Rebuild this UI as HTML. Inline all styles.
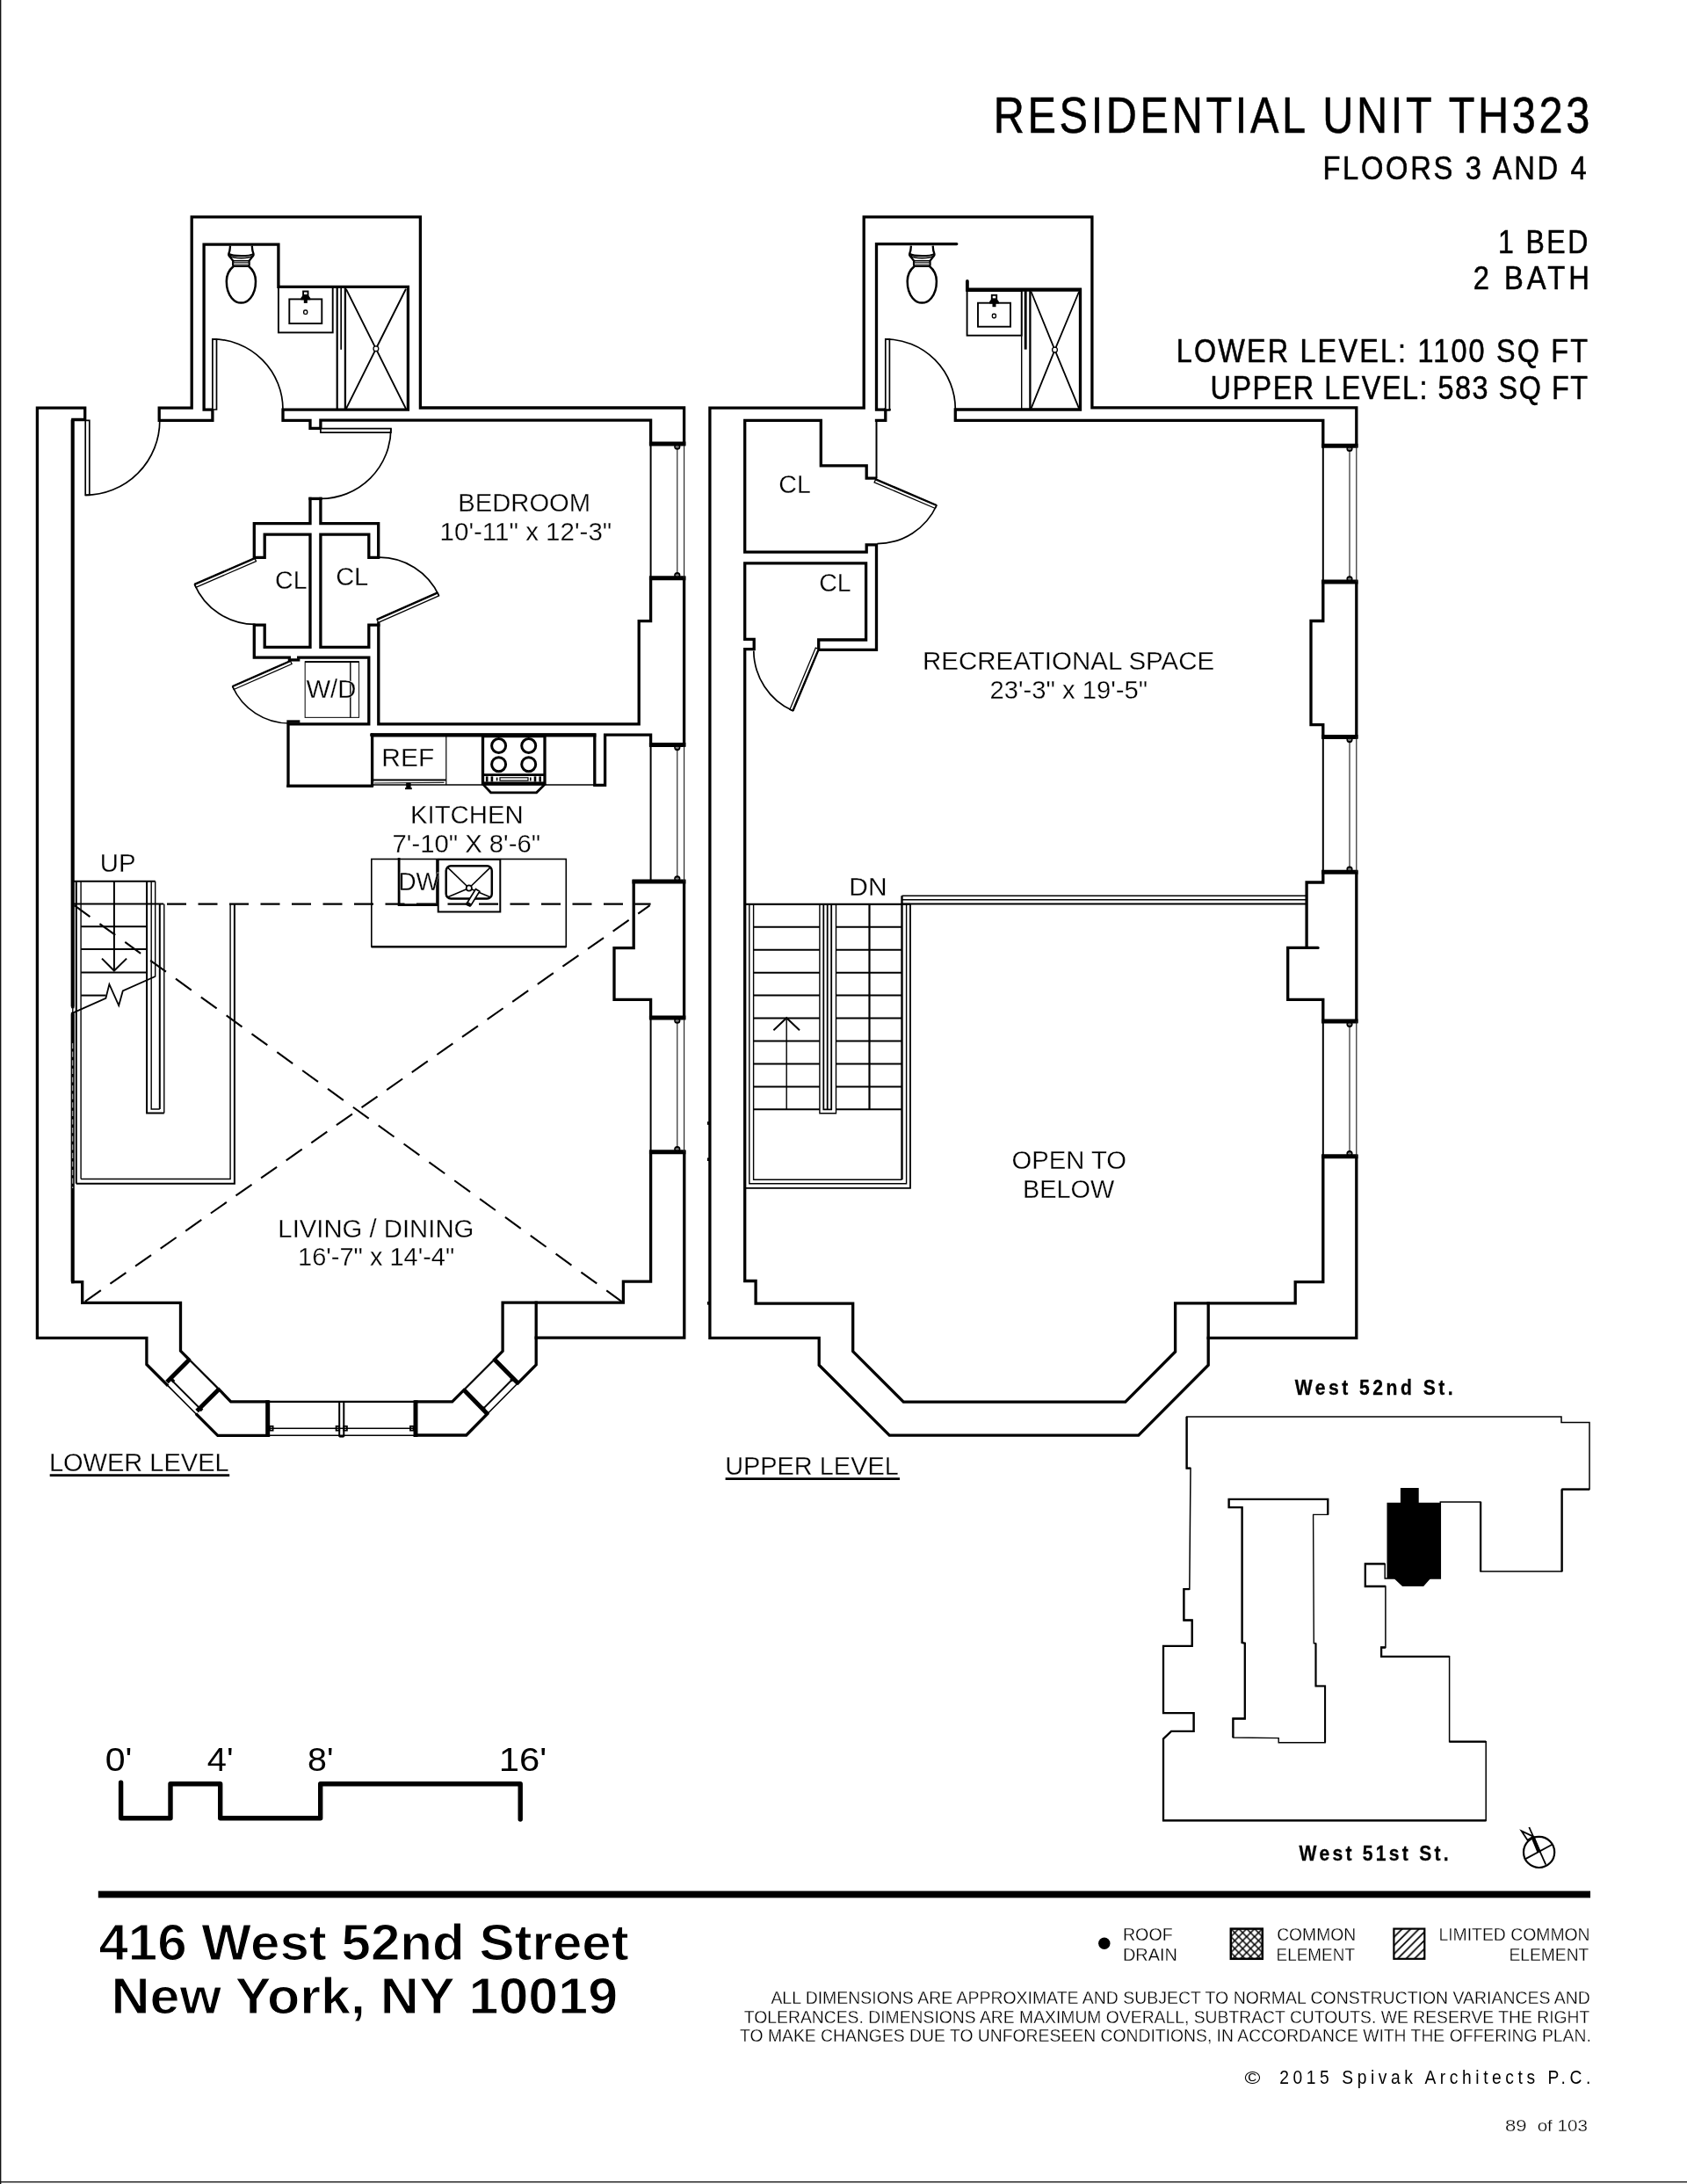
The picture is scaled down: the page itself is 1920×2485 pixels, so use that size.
<!DOCTYPE html>
<html><head><meta charset="utf-8"><title>Residential Unit TH323</title>
<style>
html,body{margin:0;padding:0;background:#fff;}
body{width:1920px;height:2485px;overflow:hidden;font-family:"Liberation Sans",sans-serif;}
svg{display:block;position:absolute;left:0;top:0;will-change:transform;}
text{font-family:"Liberation Sans",sans-serif;fill:#000;}
.w{fill:none;stroke:#000;stroke-width:3.3;stroke-linejoin:miter;stroke-linecap:square;}
.b{fill:none;stroke:#000;stroke-width:5.0;stroke-linecap:butt;}
.m{fill:none;stroke:#000;stroke-width:2;}
.t{fill:none;stroke:#000;stroke-width:1.4;}
.g{fill:none;stroke:#222;stroke-width:1.15;}
.d{fill:#fff;stroke:#000;stroke-width:1.7;stroke-linejoin:miter;}
.a{fill:none;stroke:#000;stroke-width:1.7;}
.dash{fill:none;stroke:#000;stroke-width:2.1;stroke-dasharray:22 13.5;}
.f{fill:#000;stroke:none;}
.lbl{font-weight:400;stroke:#fff;stroke-width:0.3px;paint-order:fill stroke;}
.bs{font-weight:700;fill:#000;stroke:#000;stroke-width:0.3px;}
.hd{font-weight:400;fill:#000;stroke:#000;stroke-width:0.55px;}
.hl{font-weight:400;fill:#000;}
.bd{font-weight:700;fill:#000;stroke:#fff;stroke-width:1.1px;paint-order:fill stroke;}
.kp{fill:none;stroke:#000;stroke-width:1.8;stroke-linejoin:miter;}
</style></head>
<body>
<svg width="1920" height="2485" viewBox="0 0 1920 2485">
<rect x="0" y="0" width="1920" height="2485" fill="#fff"/>
<g id="lower">
<path class="w" d="M82.8 1458.6 L82.8 1153.5"/>
<path class="w" d="M82.8 1145.5 L82.8 477.5 L96.7 477.5 L96.7 464.1 L42.4 464.1 L42.4 1522.3 L166.9 1522.3 L166.9 1552.5 L190.0 1575.6"/>
<path class="w" d="M82.8 1458.6 L93.7 1458.6 L93.7 1482.3 L205.5 1482.3 L205.5 1537.1 L215.2 1546.8"/>
<line class="t" x1="82.8" y1="1145.5" x2="82.8" y2="1153.5"/>
<line class="w" x1="82.6" y1="477.5" x2="82.6" y2="1145.5" style="stroke-width:3.9;stroke-linecap:butt"/>
<line class="w" x1="82.6" y1="1153.5" x2="82.6" y2="1458.6" style="stroke-width:3.9;stroke-linecap:butt"/>
<line x1="82.6" y1="1187" x2="82.6" y2="1352" stroke="#a0a0a0" stroke-width="1.3" stroke-dasharray="6.2 3.4"/>
<path class="b" d="M190.0 1572.5 L215.2 1547.3"/>
<path class="b" d="M224.1 1605.6 L249.3 1580.4"/>
<line class="m" x1="215.2" y1="1546.8" x2="249.3" y2="1580.9" style="stroke-width:2.2"/>
<line class="t" x1="190.0" y1="1575.6" x2="224.1" y2="1609.7" style="stroke-width:1.6"/>
<line class="m" x1="196.6" y1="1571.6" x2="228.6" y2="1603.6"/>
<rect class="f" x="195.0" y="1569.2" width="3.6" height="3.6" transform="rotate(45 196.8 1571)"/>
<rect class="f" x="227.0" y="1601.8" width="3.6" height="3.6" transform="rotate(45 228.8 1603.6)"/>
<path class="w" d="M249.3 1580.9 L262.7 1594.9 L304.6 1594.9"/>
<path class="w" d="M224.1 1609.7 L247.8 1633.4 L304.6 1633.4"/>
<line class="b" x1="304.7" y1="1593.3" x2="304.7" y2="1635.0"/>
<line class="b" x1="473.0" y1="1593.3" x2="473.0" y2="1635.0"/>
<line class="m" x1="304.7" y1="1594.9" x2="473.0" y2="1594.9" style="stroke-width:2.2"/>
<line class="t" x1="304.7" y1="1625.2" x2="473.0" y2="1625.2"/>
<line class="t" x1="304.7" y1="1633.2" x2="473.0" y2="1633.2" style="stroke-width:1.6"/>
<line class="m" x1="386.2" y1="1594.9" x2="386.2" y2="1634.8"/>
<line class="m" x1="391.3" y1="1594.9" x2="391.3" y2="1634.8"/>
<line class="m" x1="386.2" y1="1634.6" x2="391.3" y2="1634.6"/>
<rect class="m" x="382.6" y="1622.8" width="3.6" height="4.8" style="stroke-width:1.8"/>
<rect class="m" x="391.3" y="1622.8" width="3.6" height="4.8" style="stroke-width:1.8"/>
<rect class="m" x="307.0" y="1622.8" width="3.6" height="4.8" style="stroke-width:1.8"/>
<rect class="m" x="467.0" y="1622.8" width="3.6" height="4.8" style="stroke-width:1.8"/>
<path class="w" d="M473.0 1594.8 L514.7 1594.8 L528.0 1581.5"/>
<path class="w" d="M473.0 1633.0 L530.7 1633.0 L554.7 1608.7"/>
<path class="b" d="M562.7 1546.8 L589.4 1573.8"/>
<path class="b" d="M528.0 1581.5 L554.7 1608.7"/>
<line class="m" x1="528.0" y1="1581.5" x2="562.7" y2="1546.8" style="stroke-width:2.2"/>
<line class="t" x1="554.7" y1="1608.7" x2="589.4" y2="1573.8" style="stroke-width:1.6"/>
<line class="m" x1="550.2" y1="1602.6" x2="582.8" y2="1569.8"/>
<rect class="f" x="548.2" y="1600.8" width="3.6" height="3.6" transform="rotate(45 550 1602.6)"/>
<rect class="f" x="581.0" y="1568.0" width="3.6" height="3.6" transform="rotate(45 582.8 1569.8)"/>
<path class="w" d="M562.7 1546.8 L572.1 1537.4 L572.1 1482.2 L709.4 1482.2 L709.4 1458.2 L740.6 1458.2 L740.6 1310.7"/>
<path class="w" d="M589.4 1573.8 L610.2 1552.9 L610.2 1482.2"/>
<path class="w" d="M610.2 1522.2 L778.8 1522.2 L778.8 1310.7"/>
<line class="b" x1="738.9" y1="1310.7" x2="780.4" y2="1310.7"/>
<line class="b" x1="738.9" y1="1158.0" x2="780.4" y2="1158.0"/>
<line class="m" x1="740.6" y1="1158.0" x2="740.6" y2="1310.7"/>
<line class="g" x1="770.8" y1="1158.0" x2="770.8" y2="1310.7"/>
<line class="g" x1="778.6" y1="1158.0" x2="778.6" y2="1310.7"/>
<circle class="m" cx="770.8" cy="1161.2" r="2.6"/>
<circle class="m" cx="770.8" cy="1307.5" r="2.6"/>
<path class="w" d="M778.6 1158.0 L778.6 1003.0"/>
<path class="w" d="M740.6 1158.0 L740.6 1137.3 L699.0 1137.3 L699.0 1078.6 L721.2 1078.6 L721.2 1003.0"/>
<line class="b" x1="719.5" y1="1003.0" x2="780.4" y2="1003.0"/>
<line class="b" x1="738.9" y1="847.4" x2="780.4" y2="847.4"/>
<line class="m" x1="740.6" y1="847.4" x2="740.6" y2="1003.0"/>
<line class="g" x1="770.8" y1="847.4" x2="770.8" y2="1003.0"/>
<line class="g" x1="778.6" y1="847.4" x2="778.6" y2="1003.0"/>
<circle class="m" cx="770.8" cy="850.6" r="2.6"/>
<circle class="m" cx="770.8" cy="999.8" r="2.6"/>
<path class="w" d="M778.6 847.4 L778.6 657.8"/>
<path class="w" d="M740.6 847.4 L740.6 836.2 L688.6 836.2 L688.6 893.4 L676.8 893.4 L676.8 836.2 L422.9 836.2"/>
<path class="w" d="M430.8 709.7 L430.8 823.8 L727.2 823.8 L727.2 706.7 L740.6 706.7 L740.6 657.8"/>
<line class="b" x1="738.9" y1="657.8" x2="780.4" y2="657.8"/>
<line class="b" x1="738.9" y1="505.0" x2="780.4" y2="505.0"/>
<line class="m" x1="740.6" y1="505.0" x2="740.6" y2="657.8"/>
<line class="g" x1="770.8" y1="505.0" x2="770.8" y2="657.8"/>
<line class="g" x1="778.6" y1="505.0" x2="778.6" y2="657.8"/>
<circle class="m" cx="770.8" cy="508.2" r="2.6"/>
<circle class="m" cx="770.8" cy="654.6" r="2.6"/>
<path class="w" d="M740.6 505.0 L740.6 478.1 L364.9 478.1 L364.9 487.3 L353.0 487.3 L353.0 478.4 L322.0 478.4 L322.0 466.2 L464.4 466.2 L464.4 326.3 L316.9 326.3 L316.9 278.1 L232.1 278.1 L232.1 466.2 L241.9 466.2 L241.9 478.4 L181.2 478.4 L181.2 464.1 L218.2 464.1 L218.2 246.9 L478.4 246.9 L478.4 464.0 L778.6 464.0 L778.6 505.0"/>
<path class="d" d="M97.2 478.4 L97.2 563.4 L101.8 563.4 L101.8 478.4 Z"/>
<path class="a" d="M97.2 563.4 A85.0 85.0 0 0 0 181.8 478.4"/>
<path class="d" d="M241.9 466.0 L241.9 385.8 L246.5 385.8 L246.5 466.0 Z"/>
<path class="a" d="M241.9 385.8 A80.2 80.2 0 0 1 322.0 466.0"/>
<path class="d" d="M364.9 487.6 L444.9 487.6 L444.9 492.2 L364.9 492.2 Z"/>
<path class="a" d="M444.9 487.6 A79.8 79.8 0 0 1 364.9 567.4"/>
<g transform="translate(0.0 0.0)">
<path class="m" style="stroke-width:2.3;stroke-linejoin:round" d="M262 279.7 L261.6 284 C261.2 287 260 288.5 260.2 290 C260.4 291 261.2 291.8 262 292.6 L265.2 296.8 L265.2 302.6 M286.8 279.7 L287.2 284 C287.6 287 288.8 288.5 288.6 290 C288.4 291 287.6 291.8 286.8 292.6 L283.6 296.8 L283.6 302.6"/>
<path class="m" style="stroke-width:2.1" d="M260.6 289.0 C265 291.8 284 291.8 288.2 289.0"/>
<path class="t" style="stroke-width:1.5" d="M261.8 291.4 C266 294.4 283 294.4 287 291.4"/>
<path class="t" style="stroke-width:1.5" d="M265.2 296.7 H283.6"/>
<path class="g" d="M265.2 298.7 H283.6"/>
<path d="M266.6 300.5 H282.2" stroke="#8a8a8a" stroke-width="1.6" fill="none"/>
<path class="m" style="stroke-width:2.5" d="M266 302.8 C261.5 306.5 257.8 312.5 257.8 320 C257.8 329.5 260.6 335.4 263.8 339.2 C266.6 342.5 270 344.6 274.4 344.6 C278.8 344.6 282.2 342.5 285 339.2 C288.2 335.4 291 329.5 291 320 C291 312.5 287.3 306.5 282.8 302.8 Z"/>
</g>
<rect class="t" x="316.9" y="327.0" width="61.8" height="51.4" style="stroke-width:1.9"/>
<rect class="m" x="329.3" y="340.4" width="37.0" height="27.7" style="stroke-width:1.9"/>
<rect class="m" x="345.1" y="331.5" width="5.4" height="4.5" style="stroke-width:1.9"/>
<path class="f" d="M342.4 341.3 L342.4 339.0 L344.8 335.8 L350.8 335.8 L353.2 339.0 L353.2 341.3 Z"/>
<rect class="f" x="345.8" y="340.4" width="4.0" height="4.5"/>
<rect class="t" x="345.7" y="353.0" width="4.0" height="4.4" style="stroke-width:1.4" rx="1.4"/>
<line class="m" x1="383.7" y1="326.3" x2="383.7" y2="466.2" style="stroke-width:2.2"/>
<line class="t" x1="388.2" y1="326.3" x2="388.2" y2="397.8" style="stroke-width:1.7"/>
<line class="m" x1="392.9" y1="326.3" x2="392.9" y2="466.2" style="stroke-width:2.3"/>
<path class="t" d="M393.9 328.8 L427.9 396.8 L462.0 328.8" style="stroke-linejoin:bevel;stroke-width:1.9"/>
<path class="t" d="M393.9 465.2 L427.9 396.8 L462.0 465.2" style="stroke-linejoin:bevel;stroke-width:1.9"/>
<circle cx="427.9" cy="396.8" r="2.9" fill="#fff" stroke="#000" stroke-width="1.3"/>
<path class="w" d="M353.0 567.4 L364.9 567.4"/>
<path class="w" d="M353.0 567.4 L353.0 595.6 L289.3 595.6 L289.3 634.3 L301.2 634.3 L301.2 608.2 L353.0 608.2 L353.0 736.4 L301.2 736.4 L301.2 711.2 L289.3 711.2 L289.3 748.2 L329.4 748.2"/>
<path class="w" d="M364.9 567.4 L364.9 595.6 L430.7 595.6 L430.7 634.3 L419.8 634.3 L419.8 608.2 L364.9 608.2 L364.9 736.4 L419.8 736.4 L419.8 711.2 L430.8 711.2"/>
<path class="w" d="M329.4 750.9 L339.7 750.9"/>
<path class="w" d="M339.7 748.2 L419.8 748.2 L419.8 823.8 L328.0 823.8 L328.0 894.3 L423.0 894.3"/>
<path class="w" d="M328.0 821.0 L339.7 821.0"/>
<rect class="g" x="347.2" y="752.9" width="61.3" height="63.5"/>
<line class="t" x1="398.8" y1="752.9" x2="398.8" y2="816.4"/>
<line class="m" x1="347.2" y1="752.9" x2="408.5" y2="752.9"/>
<path class="d" d="M290.0 635.2 L221.4 664.8 L222.9 668.3 L291.5 638.7 Z" style="stroke-width:1.3"/>
<line class="m" x1="290.0" y1="635.2" x2="221.4" y2="664.8" style="stroke-width:2.4"/>
<path class="a" d="M221.4 664.8 A74.8 74.8 0 0 0 290.6 710.4"/>
<path class="d" d="M430.5 708.4 L499.6 677.8 L498.1 674.3 L429.0 704.9 Z" style="stroke-width:1.3"/>
<line class="m" x1="429.0" y1="704.9" x2="498.1" y2="674.3" style="stroke-width:2.4"/>
<path class="a" d="M499.6 677.8 A74.8 74.8 0 0 0 430.6 634.2"/>
<path class="d" d="M330.6 752.0 L264.6 781.0 L266.1 784.5 L332.1 755.5 Z" style="stroke-width:1.3"/>
<line class="m" x1="330.6" y1="752.0" x2="264.6" y2="781.0" style="stroke-width:2.4"/>
<path class="a" d="M264.6 781.0 A70.8 70.8 0 0 0 329.4 823.0"/>
<line class="t" x1="423.0" y1="893.0" x2="688.6" y2="893.0" style="stroke-width:1.6"/>
<line class="w" x1="328.0" y1="894.3" x2="423.0" y2="894.3"/>
<line class="w" x1="423.6" y1="836.2" x2="423.6" y2="893.4"/>
<line class="w" x1="421.9" y1="836.3" x2="678.4" y2="836.3" style="stroke-width:4.3;stroke-linecap:butt"/>
<line class="t" x1="507.8" y1="838.0" x2="507.8" y2="893.0" style="stroke-width:1.2"/>
<line class="m" x1="425.0" y1="887.6" x2="507.8" y2="887.6"/>
<line class="g" x1="426.0" y1="891.0" x2="505.5" y2="890.4"/>
<rect class="f" x="462.2" y="890.6" width="5.4" height="7.0"/>
<line class="m" x1="461.0" y1="897.2" x2="468.8" y2="897.2"/>
<rect class="w" x="549.5" y="837.6" width="70.5" height="54.0" style="stroke-width:3.3"/>
<circle class="m" cx="567.6" cy="848.5" r="8.0" style="stroke-width:3"/>
<circle class="m" cx="567.6" cy="869.7" r="8.0" style="stroke-width:3"/>
<circle class="m" cx="601.7" cy="848.5" r="8.0" style="stroke-width:3"/>
<circle class="m" cx="601.7" cy="869.7" r="8.0" style="stroke-width:3"/>
<line class="m" x1="549.5" y1="881.6" x2="620.0" y2="881.6" style="stroke-width:2.6"/>
<line class="w" x1="549.5" y1="891.4" x2="620.0" y2="891.4" style="stroke-width:3.6;stroke-linecap:butt"/>
<rect class="t" x="569.0" y="884.8" width="32.0" height="3.4" style="stroke-width:1.2"/>
<line class="m" x1="554.2" y1="883.4" x2="554.2" y2="889.6" style="stroke-width:2.6"/>
<line class="m" x1="559.9" y1="883.4" x2="559.9" y2="889.6" style="stroke-width:2.6"/>
<line class="m" x1="609.0" y1="883.4" x2="609.0" y2="889.6" style="stroke-width:2.6"/>
<line class="m" x1="614.7" y1="883.4" x2="614.7" y2="889.6" style="stroke-width:2.6"/>
<line class="m" x1="565.6" y1="884.6" x2="565.6" y2="888.4" style="stroke-width:1.6"/>
<line class="m" x1="603.8" y1="884.6" x2="603.8" y2="888.4" style="stroke-width:1.6"/>
<path class="w" d="M549.9 892.6 L558.6 901.8 L610.6 901.8 L620.0 892.6" style="stroke-width:2.7"/>
<rect class="m" x="422.8" y="977.5" width="221.5" height="99.7" style="stroke-width:1.6"/>
<line class="m" x1="422.8" y1="1077.2" x2="644.3" y2="1077.2" style="stroke-width:2.5"/>
<path class="w" d="M454.1 977.5 L454.1 1029.6 L498.4 1029.6" style="stroke-width:2.8"/>
<line class="w" x1="497.6" y1="977.5" x2="497.6" y2="1029.6" style="stroke-width:2.8;stroke-linecap:butt"/>
<line class="m" x1="459.0" y1="1026.8" x2="474.0" y2="1026.8" style="stroke:#fff;stroke-width:1.2"/>
<rect class="m" x="498.7" y="977.9" width="70.6" height="59.6" style="stroke-width:2;fill:#fff"/>
<rect class="m" x="507.7" y="985.3" width="52.1" height="37.2" rx="5.5" style="stroke-width:2.5"/>
<line class="t" x1="533.8" y1="1010.5" x2="509.6" y2="987.2" style="stroke-width:1.6"/>
<line class="t" x1="533.8" y1="1010.5" x2="557.9" y2="987.2" style="stroke-width:1.6"/>
<line class="t" x1="533.8" y1="1010.5" x2="509.6" y2="1020.8" style="stroke-width:1.6"/>
<line class="t" x1="533.8" y1="1010.5" x2="557.9" y2="1020.8" style="stroke-width:1.6"/>
<circle cx="533.8" cy="1010.5" r="3.1" fill="#fff" stroke="#000" stroke-width="1.7"/>
<path d="M541.4 1011.6 L545.8 1014.2 L536.4 1029.4 L532.0 1026.8 Z" fill="#fff" stroke="#000" stroke-width="1.7"/>
<path d="M530.8 1026.6 L536.8 1030.4 L535.0 1032.0 L530.0 1029.8 Z" fill="#000"/>
<path class="dash" d="M190 1028.6 H740.6"/>
<path class="dash" d="M739.6 1030.2 L96.8 1480.8" style="stroke-dasharray:22 12.94;stroke-dashoffset:5.7"/>
<path class="dash" d="M84.6 1030.2 L708.2 1481.4" style="stroke-dasharray:22 13.6"/>
<line class="m" x1="82.8" y1="1002.8" x2="176.7" y2="1002.8"/>
<line class="m" x1="86.8" y1="1002.8" x2="86.8" y2="1346.8"/>
<line class="t" x1="92.1" y1="1002.8" x2="92.1" y2="1341.5"/>
<path class="m" d="M167.1 1002.8 L167.1 1266.5 L186.8 1266.5"/>
<line class="t" x1="186.8" y1="1266.5" x2="186.8" y2="1028.6"/>
<path class="t" d="M172.2 1002.8 L172.2 1262.0 L181.8 1262.0"/>
<line class="m" x1="181.8" y1="1262.0" x2="181.8" y2="1028.6"/>
<line class="t" x1="176.7" y1="1002.8" x2="176.7" y2="1111.5"/>
<line class="m" x1="84.0" y1="1028.4" x2="186.2" y2="1028.4"/>
<line class="m" x1="92.2" y1="1054.2" x2="167.2" y2="1054.2"/>
<line class="m" x1="92.2" y1="1080.0" x2="167.2" y2="1080.0"/>
<line class="m" x1="92.2" y1="1106.6" x2="167.2" y2="1106.6"/>
<line class="m" x1="92.2" y1="1132.6" x2="120.4" y2="1132.6"/>
<line class="m" x1="129.9" y1="1002.8" x2="129.9" y2="1104.0"/>
<path class="m" d="M116.0 1090.6 L129.9 1104.5 L144.1 1090.6"/>
<path class="m" d="M81.0 1153.4 L120.4 1135.8 L124.4 1119.9 L135.2 1144.0 L139.8 1127.4 L176.7 1111.0" style="stroke-width:1.8"/>
<path class="m" d="M86.8 1346.8 L266.9 1346.8 L266.9 1028.6"/>
<path class="t" d="M92.1 1341.5 L262.1 1341.5 L262.1 1028.6"/>
<text class="lbl" x="521.37" y="581.7" font-size="30.2" textLength="150.73" lengthAdjust="spacingAndGlyphs">BEDROOM</text>
<text class="lbl" x="500.59" y="614.9" font-size="30.2" textLength="195.72" lengthAdjust="spacingAndGlyphs">10'-11&quot; x 12'-3&quot;</text>
<text class="lbl" x="313.07" y="669.7" font-size="30.2" textLength="36.48" lengthAdjust="spacingAndGlyphs">CL</text>
<text class="lbl" x="382.15" y="666.1" font-size="30.2" textLength="37.12" lengthAdjust="spacingAndGlyphs">CL</text>
<text class="lbl" x="348.45" y="794.1" font-size="30.2" textLength="56.98" lengthAdjust="spacingAndGlyphs">W/D</text>
<text class="lbl" x="434.30" y="871.7" font-size="30.2" textLength="59.90" lengthAdjust="spacingAndGlyphs">REF</text>
<text class="lbl" x="466.95" y="936.9" font-size="30.2" textLength="128.72" lengthAdjust="spacingAndGlyphs">KITCHEN</text>
<text class="lbl" x="446.54" y="969.5" font-size="30.2" textLength="168.58" lengthAdjust="spacingAndGlyphs">7'-10&quot; X 8'-6&quot;</text>
<text class="lbl" x="453.24" y="1013.2" font-size="30.2" textLength="47.03" lengthAdjust="spacingAndGlyphs">DW</text>
<text class="lbl" x="113.80" y="991.9" font-size="30.2" textLength="40.79" lengthAdjust="spacingAndGlyphs">UP</text>
<text class="lbl" x="316.36" y="1408.2" font-size="30.2" textLength="222.96" lengthAdjust="spacingAndGlyphs">LIVING / DINING</text>
<text class="lbl" x="339.03" y="1439.9" font-size="30.2" textLength="178.25" lengthAdjust="spacingAndGlyphs">16'-7&quot; x 14'-4&quot;</text>
<text class="lbl" x="55.88" y="1674.0" font-size="30.2" textLength="204.79" lengthAdjust="spacingAndGlyphs">LOWER LEVEL</text>
<line class="m" x1="56.7" y1="1678.7" x2="261.2" y2="1678.7" style="stroke-width:2.8"/>
</g>
<g id="upper">
<path class="w" d="M1543.8 507.3 L1543.8 463.8 L1242.9 463.8 L1242.9 246.9 L983.2 246.9 L983.2 464.1 L807.9 464.1 L807.9 1522.3 L932.2 1522.3 L932.2 1553.2 L1012.3 1633.2 L1295.7 1633.2 L1375.2 1553.2 L1375.2 1483.0"/>
<path class="w" d="M1375.2 1522.4 L1543.8 1522.4 L1543.8 1315.7"/>
<path class="w" d="M1543.8 1162.1 L1543.8 992.3"/>
<path class="w" d="M1543.8 838.4 L1543.8 662.0"/>
<path class="w" d="M1505.8 1315.7 L1505.8 1458.6 L1474.2 1458.6 L1474.2 1482.9 L1337.6 1482.9 L1337.6 1538.0 L1280.8 1595.2 L1028.3 1595.2 L970.7 1537.6 L970.7 1483.1 L860.1 1483.1 L860.1 1457.5 L847.7 1457.5 L847.7 738.7 L858.2 738.7 L858.2 727.4 L847.7 727.4 L847.7 640.9 L985.6 640.9 L985.6 728.0 L931.7 728.0 L931.7 739.3 L997.5 739.3 L997.5 619.9 L986.2 619.9 L986.2 628.2 L847.7 628.2 L847.7 478.4 L934.3 478.4 L934.3 529.9 L986.2 529.9 L986.2 544.2 L996.5 544.2"/>
<line class="m" x1="997.5" y1="478.4" x2="997.5" y2="544.2"/>
<path class="w" d="M997.5 478.4 L1007.8 478.4 L1007.8 466.2"/>
<path class="w" d="M1012.3 466.2 L997.5 466.2 L997.5 277.6 L1088.8 277.6" style="stroke-linecap:round"/>
<path class="w" d="M1100.9 320.0 L1100.9 329.6" style="stroke-linecap:round;stroke-width:3.8"/>
<line class="w" x1="1099.0" y1="329.7" x2="1231.0" y2="329.7" style="stroke-width:4.2;stroke-linecap:butt"/>
<path class="w" d="M1229.5 329.7 L1229.5 466.0 L1087.3 466.0 L1087.3 478.4 L1505.8 478.4 L1505.8 507.3"/>
<line class="b" x1="1504.1" y1="507.3" x2="1545.5" y2="507.3"/>
<line class="b" x1="1504.1" y1="662.0" x2="1545.5" y2="662.0"/>
<line class="m" x1="1505.8" y1="507.3" x2="1505.8" y2="662.0"/>
<line class="g" x1="1536.0" y1="507.3" x2="1536.0" y2="662.0"/>
<line class="g" x1="1543.8" y1="507.3" x2="1543.8" y2="662.0"/>
<circle class="m" cx="1536.0" cy="510.5" r="2.6"/>
<circle class="m" cx="1536.0" cy="658.8" r="2.6"/>
<path class="w" d="M1505.8 662.0 L1505.8 706.5 L1492.0 706.5 L1492.0 824.6 L1505.8 824.6 L1505.8 838.4"/>
<line class="b" x1="1504.1" y1="838.4" x2="1545.5" y2="838.4"/>
<line class="b" x1="1504.1" y1="992.3" x2="1545.5" y2="992.3"/>
<line class="m" x1="1505.8" y1="838.4" x2="1505.8" y2="992.3"/>
<line class="g" x1="1536.0" y1="838.4" x2="1536.0" y2="992.3"/>
<line class="g" x1="1543.8" y1="838.4" x2="1543.8" y2="992.3"/>
<circle class="m" cx="1536.0" cy="841.6" r="2.6"/>
<circle class="m" cx="1536.0" cy="989.1" r="2.6"/>
<path class="w" d="M1505.8 992.3 L1505.8 1004.0 L1487.1 1004.0 L1487.1 1078.4 L1465.7 1078.4 L1465.7 1137.4 L1505.8 1137.4 L1505.8 1162.1"/>
<path class="w" d="M1487.1 1078.4 L1500.0 1078.4" style="stroke-linecap:round"/>
<line class="b" x1="1504.1" y1="1162.1" x2="1545.5" y2="1162.1"/>
<line class="b" x1="1504.1" y1="1315.7" x2="1545.5" y2="1315.7"/>
<line class="m" x1="1505.8" y1="1162.1" x2="1505.8" y2="1315.7"/>
<line class="g" x1="1536.0" y1="1162.1" x2="1536.0" y2="1315.7"/>
<line class="g" x1="1543.8" y1="1162.1" x2="1543.8" y2="1315.7"/>
<circle class="m" cx="1536.0" cy="1165.3" r="2.6"/>
<circle class="m" cx="1536.0" cy="1312.5" r="2.6"/>
<path class="d" d="M1007.8 466.0 L1007.8 385.8 L1012.4 385.8 L1012.4 466.0 Z"/>
<path class="a" d="M1007.8 385.8 A79.8 79.8 0 0 1 1087.3 466.0"/>
<path class="d" d="M996.6 545.4 L1066.0 575.0 L1064.5 578.5 L995.1 548.9 Z" style="stroke-width:1.3"/>
<line class="m" x1="996.6" y1="545.4" x2="1066.0" y2="575.0" style="stroke-width:2.4"/>
<path class="a" d="M1066.0 575.0 A74.6 74.6 0 0 1 998.4 618.6"/>
<path class="d" d="M931.8 738.6 L902.4 808.8 L898.9 807.3 L928.3 737.1 Z" style="stroke-width:1.3"/>
<line class="m" x1="931.8" y1="738.6" x2="902.4" y2="808.8" style="stroke-width:2.4"/>
<path class="a" d="M902.4 808.8 A75.4 75.4 0 0 1 857.8 740.6"/>
<g transform="translate(774.9 0.0)">
<path class="m" style="stroke-width:2.3;stroke-linejoin:round" d="M262 279.7 L261.6 284 C261.2 287 260 288.5 260.2 290 C260.4 291 261.2 291.8 262 292.6 L265.2 296.8 L265.2 302.6 M286.8 279.7 L287.2 284 C287.6 287 288.8 288.5 288.6 290 C288.4 291 287.6 291.8 286.8 292.6 L283.6 296.8 L283.6 302.6"/>
<path class="m" style="stroke-width:2.1" d="M260.6 289.0 C265 291.8 284 291.8 288.2 289.0"/>
<path class="t" style="stroke-width:1.5" d="M261.8 291.4 C266 294.4 283 294.4 287 291.4"/>
<path class="t" style="stroke-width:1.5" d="M265.2 296.7 H283.6"/>
<path class="g" d="M265.2 298.7 H283.6"/>
<path d="M266.6 300.5 H282.2" stroke="#8a8a8a" stroke-width="1.6" fill="none"/>
<path class="m" style="stroke-width:2.5" d="M266 302.8 C261.5 306.5 257.8 312.5 257.8 320 C257.8 329.5 260.6 335.4 263.8 339.2 C266.6 342.5 270 344.6 274.4 344.6 C278.8 344.6 282.2 342.5 285 339.2 C288.2 335.4 291 329.5 291 320 C291 312.5 287.3 306.5 282.8 302.8 Z"/>
</g>
<rect class="t" x="1100.6" y="331.0" width="62.1" height="50.7" style="stroke-width:1.9"/>
<rect class="m" x="1113.0" y="344.7" width="37.0" height="27.0" style="stroke-width:1.9"/>
<rect class="m" x="1128.8" y="335.8" width="5.4" height="4.5" style="stroke-width:1.9"/>
<path class="f" d="M1126.1 345.6 L1126.1 343.3 L1128.5 340.1 L1134.5 340.1 L1136.9 343.3 L1136.9 345.6 Z"/>
<rect class="f" x="1129.5" y="344.7" width="4.0" height="4.5"/>
<rect class="t" x="1129.4" y="357.3" width="4.0" height="4.4" style="stroke-width:1.4" rx="1.4"/>
<line class="t" x1="1162.7" y1="329.7" x2="1162.7" y2="466.0"/>
<line class="w" x1="1167.2" y1="331.0" x2="1167.2" y2="397.6" style="stroke-width:2.9;stroke-linecap:butt"/>
<line class="m" x1="1172.4" y1="329.7" x2="1172.4" y2="466.0" style="stroke-width:2.3"/>
<path class="t" d="M1173.6 332.0 L1200.5 398.1 L1228.0 332.0" style="stroke-linejoin:bevel;stroke-width:1.8"/>
<path class="t" d="M1173.6 464.6 L1200.5 398.1 L1228.0 464.6" style="stroke-linejoin:bevel;stroke-width:1.8"/>
<circle cx="1200.5" cy="398.1" r="2.9" fill="#fff" stroke="#000" stroke-width="1.3"/>
<line class="m" x1="847.7" y1="1028.8" x2="1036.0" y2="1028.8" style="stroke-width:2.2"/>
<path class="t" d="M852.8 1028.8 L852.8 1346.8 L1031.6 1346.8 L1031.6 1028.8"/>
<path class="t" d="M857.6 1028.8 L857.6 1342.3 L1026.5 1342.3"/>
<line class="m" x1="1026.5" y1="1019.3" x2="1026.5" y2="1342.3" style="stroke-width:2.4"/>
<path class="m" d="M847.7 1351.8 L1036.0 1351.8 L1036.0 1028.8" style="stroke-width:1.8"/>
<path class="t" d="M932.9 1028.8 L932.9 1266.8 L951.5 1266.8 L951.5 1028.8"/>
<path class="m" d="M937.3 1028.8 L937.3 1262.4 L946.2 1262.4 L946.2 1028.8" style="stroke-width:1.8"/>
<line class="m" x1="941.7" y1="1028.8" x2="941.7" y2="1262.4" style="stroke-width:1.8"/>
<line class="m" x1="857.6" y1="1054.8" x2="932.9" y2="1054.8"/>
<line class="m" x1="951.5" y1="1054.8" x2="1026.5" y2="1054.8"/>
<line class="m" x1="857.6" y1="1080.7" x2="932.9" y2="1080.7"/>
<line class="m" x1="951.5" y1="1080.7" x2="1026.5" y2="1080.7"/>
<line class="m" x1="857.6" y1="1106.7" x2="932.9" y2="1106.7"/>
<line class="m" x1="951.5" y1="1106.7" x2="1026.5" y2="1106.7"/>
<line class="m" x1="857.6" y1="1132.6" x2="932.9" y2="1132.6"/>
<line class="m" x1="951.5" y1="1132.6" x2="1026.5" y2="1132.6"/>
<line class="m" x1="857.6" y1="1158.6" x2="932.9" y2="1158.6"/>
<line class="m" x1="951.5" y1="1158.6" x2="1026.5" y2="1158.6"/>
<line class="m" x1="857.6" y1="1184.5" x2="932.9" y2="1184.5"/>
<line class="m" x1="951.5" y1="1184.5" x2="1026.5" y2="1184.5"/>
<line class="m" x1="857.6" y1="1210.4" x2="932.9" y2="1210.4"/>
<line class="m" x1="951.5" y1="1210.4" x2="1026.5" y2="1210.4"/>
<line class="m" x1="857.6" y1="1236.4" x2="932.9" y2="1236.4"/>
<line class="m" x1="951.5" y1="1236.4" x2="1026.5" y2="1236.4"/>
<line class="m" x1="857.6" y1="1262.3" x2="932.9" y2="1262.3"/>
<line class="m" x1="951.5" y1="1262.3" x2="1026.5" y2="1262.3"/>
<line class="m" x1="989.5" y1="1028.8" x2="989.5" y2="1262.3" style="stroke-width:2.2"/>
<line class="t" x1="895.2" y1="1158.4" x2="895.2" y2="1262.3"/>
<path class="m" d="M880.4 1172.2 L895.2 1158.2 L910.0 1172.2"/>
<path class="t" d="M1487.1 1019.3 L1026.5 1019.3"/>
<line class="t" x1="1026.5" y1="1023.7" x2="1487.1" y2="1023.7"/>
<line class="m" x1="1026.5" y1="1028.4" x2="1487.1" y2="1028.4"/>
<rect class="f" x="804.9" y="1276.2" width="2.1" height="3.6"/>
<rect class="f" x="804.9" y="1317.4" width="2.1" height="3.6"/>
<rect class="f" x="804.9" y="1481.0" width="2.1" height="3.6"/>
<text class="lbl" x="886.37" y="561.1" font-size="30.2" textLength="36.48" lengthAdjust="spacingAndGlyphs">CL</text>
<text class="lbl" x="932.27" y="672.6" font-size="30.2" textLength="36.48" lengthAdjust="spacingAndGlyphs">CL</text>
<text class="lbl" x="1050.04" y="762.4" font-size="30.2" textLength="332.20" lengthAdjust="spacingAndGlyphs">RECREATIONAL SPACE</text>
<text class="lbl" x="1126.44" y="795.0" font-size="30.2" textLength="179.75" lengthAdjust="spacingAndGlyphs">23'-3&quot; x 19'-5&quot;</text>
<text class="lbl" x="966.31" y="1018.7" font-size="30.2" textLength="43.22" lengthAdjust="spacingAndGlyphs">DN</text>
<text class="lbl" x="1151.59" y="1330.3" font-size="30.2" textLength="130.46" lengthAdjust="spacingAndGlyphs">OPEN TO</text>
<text class="lbl" x="1163.89" y="1363.0" font-size="30.2" textLength="104.37" lengthAdjust="spacingAndGlyphs">BELOW</text>
<text class="lbl" x="825.13" y="1677.7" font-size="30.2" textLength="197.69" lengthAdjust="spacingAndGlyphs">UPPER LEVEL</text>
<line class="m" x1="825.6" y1="1682.7" x2="1024.0" y2="1682.7" style="stroke-width:2.8"/>
</g>
<g id="misc">
<rect x="0" y="0" width="1.35" height="2485" fill="#111"/>
<rect x="0" y="2482" width="1920" height="1.4" fill="#1a1a1a"/>
<text class="hd" transform="translate(1130.71 151.2) scale(0.8600 1)" font-size="56.6" style="letter-spacing:4.235px">RESIDENTIAL UNIT TH323</text>
<text class="hd" transform="translate(1505.38 204.0) scale(0.8800 1)" font-size="37.2" style="letter-spacing:3.055px">FLOORS 3 AND 4</text>
<text class="hd" transform="translate(1704.90 287.7) scale(0.8600 1)" font-size="37.2" style="letter-spacing:2.873px">1 BED</text>
<text class="hd" transform="translate(1676.66 328.6) scale(0.8800 1)" font-size="37.2" style="letter-spacing:4.576px">2 BATH</text>
<text class="hd" transform="translate(1338.71 411.7) scale(0.8700 1)" font-size="37.2" style="letter-spacing:2.507px">LOWER LEVEL: 1100 SQ FT</text>
<text class="hd" transform="translate(1377.57 453.9) scale(0.8700 1)" font-size="37.2" style="letter-spacing:1.748px">UPPER LEVEL: 583 SQ FT</text>
<path class="kp" d="M1350.6 1612.0 L1777.0 1612.0 L1777.0 1618.4 L1809.0 1618.4 L1809.0 1694.6 L1777.6 1694.6 L1777.6 1788.1 L1685.1 1788.1 L1685.1 1709.0 L1639.3 1709.0 L1639.3 1796.1 L1576.2 1796.1 L1576.2 1779.4 L1553.8 1779.4 L1553.8 1805.0 L1576.9 1805.0 L1576.9 1874.5 L1572.1 1874.5 L1572.1 1884.8 L1649.6 1884.8 L1649.6 1981.7 L1691.2 1981.7 L1691.2 2071.4 L1324.0 2071.4 L1324.0 1978.5 L1333.0 1969.9 L1358.6 1969.9 L1358.6 1949.1 L1324.0 1949.1 L1324.0 1872.9 L1356.7 1872.9 L1356.7 1843.5 L1347.4 1843.5 L1347.4 1808.2 L1353.8 1808.2 L1355.0 1670.6 L1350.6 1670.6 Z" style="stroke-width:1.5"/>
<path class="kp" d="M1398.6 1705.8 L1511.3 1705.8 L1511.3 1723.4 L1494.6 1723.4 L1495.3 1869.7 L1497.5 1869.7 L1497.5 1918.4 L1508.1 1918.4 L1508.1 1982.7 L1455.2 1982.7 L1455.2 1977.6 L1403.4 1977.0 L1403.4 1955.5 L1416.8 1955.5 L1416.8 1869.7 L1413.6 1869.1 L1413.6 1715.1 L1398.6 1715.1 Z" style="stroke-width:1.4"/>
<path class="kp" d="M1350.6 1612.0 L1350.6 1670.6 L1355.0 1670.6" style="stroke-width:2.3"/>
<path class="kp" d="M1353.8 1808.2 L1347.4 1808.2 L1347.4 1843.5 L1356.7 1843.5 L1356.7 1872.9 L1324.0 1872.9 L1324.0 1949.1 L1358.6 1949.1 L1358.6 1969.9 L1333.0 1969.9 L1324.0 1978.5 L1324.0 2071.4 L1691.2 2071.4" style="stroke-width:2.3"/>
<path class="kp" d="M1777.6 1694.6 L1777.6 1788.1" style="stroke-width:2.3"/>
<path class="kp" d="M1809.0 1694.6 L1777.6 1694.6" style="stroke-width:2.3"/>
<path class="kp" d="M1685.1 1788.1 L1685.1 1709.0" style="stroke-width:2.3"/>
<path class="kp" d="M1576.2 1779.4 L1553.8 1779.4 L1553.8 1805.0 L1576.9 1805.0" style="stroke-width:2.3"/>
<path class="kp" d="M1576.9 1874.5 L1572.1 1874.5 L1572.1 1884.8 L1649.6 1884.8" style="stroke-width:2.3"/>
<path class="kp" d="M1649.6 1981.7 L1691.2 1981.7" style="stroke-width:2.3"/>
<path class="kp" d="M1511.3 1723.4 L1511.3 1705.8 L1398.6 1705.8 L1398.6 1715.1 L1413.6 1715.1 L1413.6 1869.1 L1416.8 1869.7 L1416.8 1955.5 L1403.4 1955.5 L1403.4 1977.0" style="stroke-width:2.3"/>
<path class="kp" d="M1497.5 1869.7 L1497.5 1918.4 L1508.1 1918.4 L1508.1 1982.7" style="stroke-width:2"/>
<path class="f" d="M1578.5 1709.7 L1593.9 1709.7 L1593.9 1693.0 L1614.7 1693.0 L1614.7 1709.7 L1639.3 1709.7 L1639.3 1796.1 L1628.1 1796.1 L1620.1 1805.0 L1596.1 1805.0 L1586.5 1796.1 L1578.5 1796.1 Z"/>
<text class="bs" transform="translate(1473.70 1587.2) scale(0.8800 1)" font-size="24" style="letter-spacing:3.973px">West 52nd St.</text>
<text class="bs" transform="translate(1478.60 2117.0) scale(0.8800 1)" font-size="24" style="letter-spacing:3.695px">West 51st St.</text>
<circle cx="1751.6" cy="2107.4" r="17.6" fill="none" stroke="#000" stroke-width="2.2"/>
<line class="m" x1="1736.2" y1="2115.1" x2="1767.0" y2="2098.5" style="stroke-width:1.8"/>
<line class="m" x1="1740.3" y1="2079.0" x2="1759.3" y2="2121.6" style="stroke-width:1.8"/>
<line class="m" x1="1744.5" y1="2090.2" x2="1751.6" y2="2107.4" style="stroke-width:4.2"/>
<path class="m" d="M1731.7 2083.4 L1745.1 2089.6 L1738.5 2093.8 Z" style="stroke-width:1.8"/>
<path class="w" d="M137.6 2028.3 L137.6 2068.8 L194.0 2068.8 L194.0 2029.8 L250.7 2029.8 L250.7 2068.8 L364.7 2068.8 L364.7 2029.8 L592.2 2029.8 L592.2 2070.0" style="stroke-width:5.4;stroke-linecap:round;stroke-linejoin:round"/>
<text class="hl" x="119.76" y="2014.6" font-size="36" textLength="30.68" lengthAdjust="spacingAndGlyphs">0'</text>
<text class="hl" x="235.80" y="2014.6" font-size="36" textLength="29.77" lengthAdjust="spacingAndGlyphs">4'</text>
<text class="hl" x="350.13" y="2014.6" font-size="36" textLength="29.42" lengthAdjust="spacingAndGlyphs">8'</text>
<text class="hl" x="567.67" y="2014.6" font-size="36" textLength="54.46" lengthAdjust="spacingAndGlyphs">16'</text>
<rect x="111.8" y="2151.6" width="1698.2" height="7.8" fill="#000"/>
<text class="bd" x="112.40" y="2229.7" font-size="57.6" textLength="603.41" lengthAdjust="spacingAndGlyphs">416 West 52nd Street</text>
<text class="bd" x="126.43" y="2290.8" font-size="57.6" textLength="576.73" lengthAdjust="spacingAndGlyphs">New York, NY 10019</text>
<circle class="f" cx="1256.8" cy="2211.2" r="6.7"/>
<text class="lbl" x="1277.93" y="2207.5" font-size="20.8" textLength="56.73" lengthAdjust="spacingAndGlyphs">ROOF</text>
<text class="lbl" x="1277.91" y="2230.6" font-size="20.8" textLength="62.02" lengthAdjust="spacingAndGlyphs">DRAIN</text>
<defs><pattern id="xh" width="9.0" height="9.0" patternUnits="userSpaceOnUse" patternTransform="translate(1400.8 2194.6)"><path d="M-1 -1 L10 10 M-1 10 L10 -1" stroke="#000" stroke-width="1.55" fill="none"/></pattern><pattern id="dh" width="9.6" height="9.6" patternUnits="userSpaceOnUse" patternTransform="translate(1586.4 2194.6)"><path d="M-1 10.6 L10.6 -1 M-5.8 5.8 L5.8 -5.8 M3.8 15.4 L15.4 3.8" stroke="#000" stroke-width="1.7" fill="none"/></pattern></defs>
<rect x="1400.8" y="2194.6" width="36" height="34.2" fill="url(#xh)" stroke="#000" stroke-width="2.5"/>
<text class="lbl" x="1453.14" y="2207.5" font-size="20.8" textLength="90.03" lengthAdjust="spacingAndGlyphs">COMMON</text>
<text class="lbl" x="1452.59" y="2230.6" font-size="20.8" textLength="89.36" lengthAdjust="spacingAndGlyphs">ELEMENT</text>
<rect x="1586.4" y="2194.6" width="34.9" height="34.2" fill="url(#dh)" stroke="#000" stroke-width="2.2"/>
<text class="lbl" x="1637.45" y="2207.5" font-size="20.8" textLength="172.17" lengthAdjust="spacingAndGlyphs">LIMITED COMMON</text>
<text class="lbl" x="1717.46" y="2230.6" font-size="20.8" textLength="90.89" lengthAdjust="spacingAndGlyphs">ELEMENT</text>
<text class="lbl" x="877.40" y="2280.3" font-size="19.8" textLength="932.48" lengthAdjust="spacingAndGlyphs">ALL DIMENSIONS ARE APPROXIMATE AND SUBJECT TO NORMAL CONSTRUCTION VARIANCES AND</text>
<text class="lbl" x="846.81" y="2301.8" font-size="19.8" textLength="962.60" lengthAdjust="spacingAndGlyphs">TOLERANCES. DIMENSIONS ARE MAXIMUM OVERALL, SUBTRACT CUTOUTS. WE RESERVE THE RIGHT</text>
<text class="lbl" x="842.01" y="2323.3" font-size="19.8" textLength="968.82" lengthAdjust="spacingAndGlyphs">TO MAKE CHANGES DUE TO UNFORESEEN CONDITIONS, IN ACCORDANCE WITH THE OFFERING PLAN.</text>
<text class="hl" x="1416.43" y="2370.5" font-size="21" textLength="17.98" lengthAdjust="spacingAndGlyphs">©</text>
<text class="hl" transform="translate(1456.24 2370.5) scale(0.9000 1)" font-size="21.4" style="letter-spacing:5.087px">2015 Spivak Architects P.C.</text>
<text class="lbl" x="1713.01" y="2424.5" font-size="18.5" textLength="24.54" lengthAdjust="spacingAndGlyphs">89</text>
<text class="lbl" x="1749.68" y="2424.5" font-size="18.5" textLength="57.15" lengthAdjust="spacingAndGlyphs">of 103</text>
</g>
</svg>
</body></html>
